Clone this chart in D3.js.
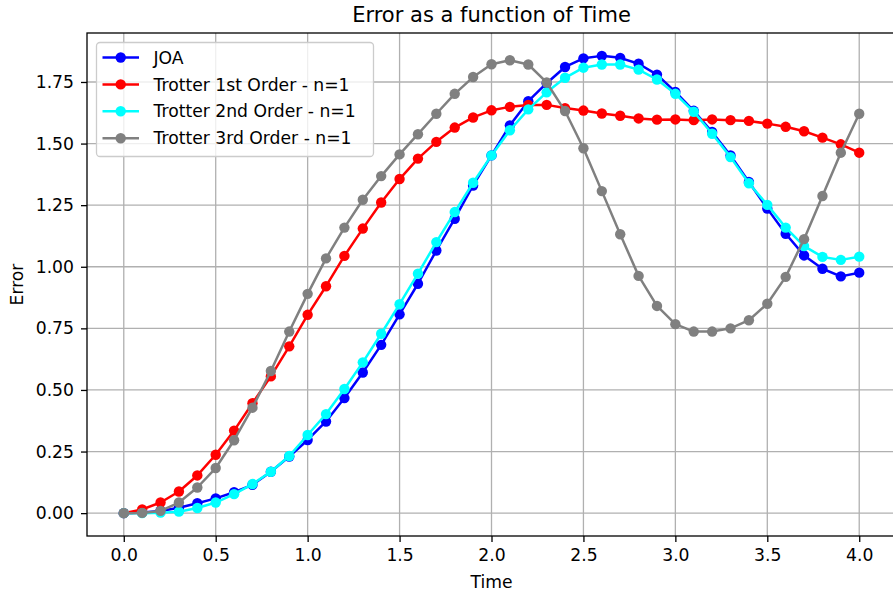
<!DOCTYPE html>
<html>
<head>
<meta charset="utf-8">
<script src="https://cdn.jsdelivr.net/npm/d3@7"></script>
<style>
  html, body { margin: 0; padding: 0; background: #fff; }
  svg { display: block; font-family: "DejaVu Sans", sans-serif; }
</style>
</head>
<body>
<svg id="chart" width="893" height="594"></svg>
<script>
const time = [0.0,0.1,0.2,0.3,0.4,0.5,0.6,0.7,0.8,0.9,1.0,1.1,1.2,1.3,1.4,1.5,1.6,1.7,1.8,1.9,2.0,
              2.1,2.2,2.3,2.4,2.5,2.6,2.7,2.8,2.9,3.0,3.1,3.2,3.3,3.4,3.5,3.6,3.7,3.8,3.9,4.0];
const joa = [0,0.003,0.009,0.022,0.040,0.060,0.085,0.115,0.168,0.230,0.297,0.372,0.467,0.571,0.683,0.807,
             0.931,1.066,1.195,1.330,1.452,1.574,1.672,1.745,1.811,1.846,1.856,1.848,1.824,1.780,1.710,
             1.633,1.547,1.452,1.344,1.236,1.134,1.046,0.992,0.961,0.976];
const trotter1 = [0,0.015,0.043,0.088,0.153,0.237,0.335,0.446,0.555,0.677,0.805,0.921,1.044,1.155,1.261,1.356,
             1.439,1.507,1.565,1.606,1.635,1.649,1.657,1.657,1.644,1.634,1.622,1.613,1.602,1.597,1.598,
             1.595,1.598,1.595,1.592,1.581,1.568,1.550,1.524,1.497,1.463];
const trotter2 = [0,0.000,0.002,0.006,0.021,0.043,0.077,0.118,0.168,0.232,0.317,0.402,0.504,0.612,0.728,0.848,
             0.972,1.100,1.222,1.341,1.452,1.554,1.639,1.708,1.767,1.808,1.821,1.821,1.800,1.760,1.702,
             1.629,1.540,1.445,1.339,1.251,1.159,1.084,1.040,1.028,1.041];
const trotter3 = [0,0.001,0.009,0.043,0.104,0.183,0.296,0.428,0.577,0.737,0.890,1.034,1.159,1.272,1.368,1.456,
             1.538,1.621,1.702,1.770,1.822,1.838,1.821,1.748,1.632,1.481,1.307,1.132,0.963,0.841,0.767,
             0.737,0.737,0.750,0.783,0.850,0.959,1.112,1.287,1.463,1.621];
const seriesNames = ["JOA","Trotter 1st Order - n=1","Trotter 2nd Order - n=1","Trotter 3rd Order - n=1"];
const seriesColors = ["#0000ff","#ff0000","#00ffff","#808080"];
const xTicks = [0.0,0.5,1.0,1.5,2.0,2.5,3.0,3.5,4.0];
const yTicks = [0.00,0.25,0.50,0.75,1.00,1.25,1.50,1.75];

const seriesValues = [joa, trotter1, trotter2, trotter3];
const series = seriesNames.map((name, i) => ({
  name, color: seriesColors[i],
  points: time.map((t, j) => ({t, v: seriesValues[i][j]}))
}));

const svg = d3.select("#chart");
const W = 893, H = 594;
const m = {left: 87, top: 33, right: 896, bottom: 536};
const FS = 17.2, LW = 2.5, R = 5.2, GW = 1.3;

const xmin = d3.min(time), xmax = d3.max(time);
const allV = seriesValues.flat();
const vmin = d3.min(allV), vmax = d3.max(allV);
const xpad = (xmax - xmin) * 0.05, ypad = (vmax - vmin) * 0.05;
const x = d3.scaleLinear().domain([xmin - xpad, xmax + xpad]).range([m.left, m.right]);
const y = d3.scaleLinear().domain([vmin - ypad, vmax + ypad]).range([m.bottom, m.top]);

svg.append("rect").attr("width", W).attr("height", H).attr("fill", "#fff");

// grid
const grid = svg.append("g");
grid.selectAll("line.gx").data(xTicks).enter().append("line")
  .attr("x1", d => x(d)).attr("x2", d => x(d)).attr("y1", m.top).attr("y2", m.bottom)
  .attr("stroke", "#b0b0b0").attr("stroke-width", GW);
grid.selectAll("line.gy").data(yTicks).enter().append("line")
  .attr("y1", d => y(d)).attr("y2", d => y(d)).attr("x1", m.left).attr("x2", m.right)
  .attr("stroke", "#b0b0b0").attr("stroke-width", GW);

// series
const line = d3.line().x(d => x(d.t)).y(d => y(d.v));
series.forEach(s => {
  const g = svg.append("g");
  g.append("path").datum(s.points).attr("d", line)
    .attr("fill", "none").attr("stroke", s.color).attr("stroke-width", LW)
    .attr("stroke-linejoin", "round");
  g.selectAll("circle").data(s.points).enter().append("circle")
    .attr("cx", d => x(d.t)).attr("cy", d => y(d.v)).attr("r", R)
    .attr("fill", s.color);
});

// axes
const xAxis = d3.axisBottom(x).tickValues(xTicks).tickFormat(d3.format(".1f")).tickSize(6).tickPadding(7);
const yAxis = d3.axisLeft(y).tickValues(yTicks).tickFormat(d3.format(".2f")).tickSize(6).tickPadding(7);
const gx = svg.append("g").attr("transform", `translate(0,${m.bottom})`).call(xAxis);
const gy = svg.append("g").attr("transform", `translate(${m.left},0)`).call(yAxis);
[gx, gy].forEach(g => {
  g.select(".domain").remove();
  g.selectAll(".tick line").attr("stroke", "#000").attr("stroke-width", GW);
  g.selectAll(".tick text").attr("fill", "#000").attr("font-size", FS)
    .attr("font-family", "DejaVu Sans, sans-serif");
});

// spines
svg.append("rect").attr("x", m.left).attr("y", m.top)
  .attr("width", m.right - m.left).attr("height", m.bottom - m.top)
  .attr("fill", "none").attr("stroke", "#000").attr("stroke-width", GW);

// title & labels
svg.append("text").attr("x", (m.left + m.right) / 2).attr("y", 21.5)
  .attr("text-anchor", "middle").attr("font-size", 21).attr("fill", "#000")
  .text("Error as a function of Time");
svg.append("text").attr("x", (m.left + m.right) / 2).attr("y", 588)
  .attr("text-anchor", "middle").attr("font-size", FS).attr("fill", "#000")
  .text("Time");
svg.append("text").attr("transform", `translate(23,${(m.top + m.bottom) / 2}) rotate(-90)`)
  .attr("text-anchor", "middle").attr("font-size", FS).attr("fill", "#000")
  .text("Error");

// legend
const lg = svg.append("g").attr("transform", "translate(96.5,42.5)");
lg.append("rect").attr("width", 277).attr("height", 114).attr("rx", 3.5)
  .attr("fill", "#fff").attr("fill-opacity", 0.8).attr("stroke", "#cccccc").attr("stroke-width", GW);
series.forEach((s, i) => {
  const yy = 15 + i * 26.9;
  lg.append("line").attr("x1", 6).attr("x2", 42.5).attr("y1", yy).attr("y2", yy)
    .attr("stroke", s.color).attr("stroke-width", LW);
  lg.append("circle").attr("cx", 24.2).attr("cy", yy).attr("r", R).attr("fill", s.color);
  lg.append("text").attr("x", 57).attr("y", yy).attr("dy", "0.36em")
    .attr("font-size", FS).attr("fill", "#000").text(s.name);
});
</script>
</body>
</html>
